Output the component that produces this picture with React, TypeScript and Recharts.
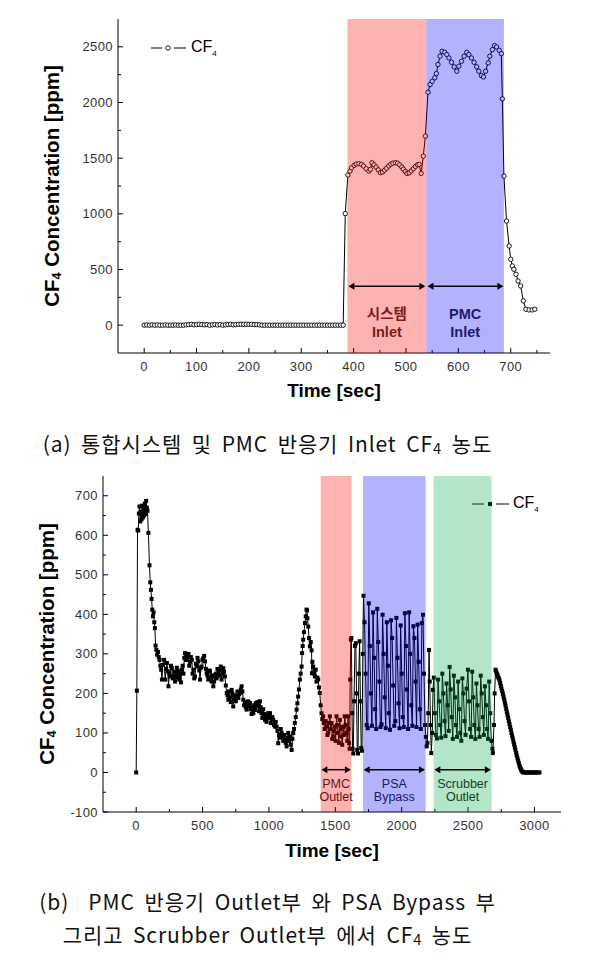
import {
  Label,
  Legend,
  Line,
  LineChart,
  ReferenceArea,
  ReferenceLine,
  XAxis,
  YAxis,
} from "recharts";

// ---------- (a) system / PMC inlet ----------
// [time sec, CF4 ppm]
const BASELINE_A: [number, number][] = [
  [0, 0], [5, 2], [10, 0], [15, 3], [20, 0], [25, 2], [30, 0], [35, 0], [40, 2],
  [45, 0], [50, 0], [55, 0], [60, 2], [65, 0], [70, 0], [75, 0], [80, 3], [85, 5],
  [90, 8], [95, 3], [100, 5], [105, 8], [110, 5], [115, 3], [120, 5], [125, 0],
  [130, 3], [135, 5], [140, 2], [145, 5], [150, 0], [155, 3], [160, 5], [165, 8],
  [170, 3], [175, 5], [180, 8], [185, 8], [190, 8], [195, 8], [200, 8], [205, 8],
  [210, 5], [215, 5], [220, 3], [225, 0], [230, 0], [235, 0], [240, 0], [245, 0],
  [250, 0], [255, 0], [260, 0], [265, 0], [270, 0], [275, 0], [280, 0], [285, 0],
  [290, 0], [295, 0], [300, 0], [305, 0], [310, 0], [315, 0], [320, 0], [325, 0],
  [330, 0], [335, 0], [340, 0], [345, 0], [350, 0], [355, 0], [360, 0], [365, 0],
  [370, 0], [375, 0], [380, 0],
];

const SYSTEM_INLET_A: [number, number][] = [
  [384, 1002], [389, 1348], [393, 1384], [396, 1414], [401, 1435], [405, 1447],
  [410, 1450], [415, 1444], [419, 1429], [424, 1405], [429, 1384], [432, 1400],
  [435, 1459], [439, 1440], [443, 1420], [447, 1395], [451, 1370], [455, 1375],
  [459, 1392], [463, 1410], [467, 1430], [471, 1445], [475, 1455], [480, 1459],
  [484, 1455], [488, 1440], [492, 1420], [495, 1400], [499, 1380], [502, 1363],
  [506, 1368], [510, 1385], [514, 1405], [518, 1425], [522, 1440], [525, 1444],
  [529, 1363], [533, 1518], [537, 1698],
];

const PMC_INLET_A: [number, number][] = [
  [542, 2092], [546, 2161], [550, 2191], [555, 2222], [558, 2260], [561, 2341],
  [565, 2416], [569, 2460], [574, 2451], [578, 2430], [582, 2400], [587, 2361],
  [592, 2320], [597, 2281], [601, 2326], [606, 2370], [611, 2416], [616, 2451],
  [620, 2430], [625, 2400], [630, 2361], [635, 2320], [639, 2281], [644, 2242],
  [648, 2230], [652, 2281], [657, 2356], [660, 2416], [665, 2475], [669, 2511],
  [673, 2499], [678, 2469], [682, 2439], [684, 2033], [687, 1339],
];

const PURGE_A: [number, number][] = [
  [692, 935], [697, 711], [700, 592], [703, 532], [706, 502], [710, 457],
  [714, 397], [719, 352], [724, 218], [729, 143], [735, 137], [741, 137], [746, 143],
];

const BANDS_A = [
  { from: 388, to: 539, arrow: [390, 537], y: 350, lines: ["시스템", "Inlet"] },
  { from: 539, to: 687, arrow: [541, 686], y: 350, lines: ["PMC", "Inlet"] },
];

const X_MAJOR_A = [0, 100, 200, 300, 400, 500, 600, 700];
const X_MINOR_A = [50, 150, 250, 350, 450, 550, 650, 750];
const Y_MAJOR_A = [0, 500, 1000, 1500, 2000, 2500];
const Y_MINOR_A = [250, 750, 1250, 1750, 2250];

// ---------- (b) PMC outlet / PSA bypass / scrubber outlet ----------
const RISE_B: [number, number][] = [
  [0, 0], [5, 207], [10, 614], [15, 612], [20, 655], [25, 673], [30, 635], [35, 660],
  [40, 640], [45, 675], [50, 645], [55, 665], [60, 650], [65, 680], [70, 654],
  [75, 687], [80, 670], [85, 662], [92, 606], [100, 524],
];

const DECAY_B: [number, number][] = [
  [106, 481], [111, 462], [116, 439], [121, 412], [126, 395], [131, 405], [136, 380],
  [141, 365], [146, 321], [152, 310], [158, 298], [164, 305], [170, 292], [176, 285],
  [182, 270], [188, 260], [194, 235],
];

const DRIFT_B: [number, number][] = [
  [200, 272], [210, 285], [218, 235], [226, 262], [231, 277], [238, 256], [243, 218],
  [250, 250], [256, 243], [262, 270], [268, 264], [275, 238], [281, 243], [287, 255],
  [293, 230], [300, 248], [306, 265], [312, 240], [318, 256], [325, 235], [331, 250],
  [337, 228], [343, 260], [350, 270], [356, 250], [362, 290], [368, 302], [375, 285],
  [381, 285], [387, 294], [393, 300], [400, 270], [406, 280], [412, 292], [419, 285],
  [425, 250], [431, 260], [437, 238], [443, 243], [450, 275], [456, 268], [462, 290],
  [468, 281], [475, 258], [481, 235], [487, 265], [493, 268], [500, 285], [506, 289],
  [512, 295], [518, 281], [525, 262], [531, 251], [537, 245], [543, 235], [550, 258],
  [556, 256], [562, 240], [568, 230], [575, 246], [581, 218], [587, 230], [593, 243],
  [600, 250], [606, 238], [612, 262], [619, 251], [625, 245], [631, 260], [637, 268],
  [643, 235], [650, 250], [656, 264], [662, 255], [668, 243], [675, 220], [682, 201],
  [688, 195], [694, 184], [700, 205], [706, 190], [712, 178], [719, 209], [725, 200],
  [731, 167], [737, 185], [743, 195], [750, 180], [757, 193], [763, 205], [769, 188],
  [775, 198], [782, 201], [788, 210], [794, 218], [800, 205], [807, 184], [813, 170],
  [819, 178], [825, 165], [832, 159], [838, 172], [844, 180], [850, 168], [857, 176],
  [863, 160], [869, 148], [875, 165], [882, 150], [888, 170], [894, 158], [900, 175],
  [907, 167], [913, 178], [919, 170], [925, 155], [932, 180], [938, 165], [944, 150],
  [950, 138], [957, 160], [963, 148], [970, 133], [976, 145], [982, 128], [988, 140],
  [995, 150], [1001, 138], [1008, 150], [1014, 125], [1020, 133], [1026, 140],
  [1032, 133], [1038, 120], [1045, 116], [1051, 128], [1058, 116], [1064, 105],
  [1070, 74], [1076, 95], [1083, 88], [1089, 110], [1095, 100], [1101, 92], [1108, 80],
  [1114, 95], [1120, 83], [1126, 75], [1133, 66], [1139, 88], [1145, 100], [1151, 80],
  [1158, 91], [1164, 70], [1171, 57], [1177, 85], [1183, 100], [1189, 110], [1195, 125],
  [1202, 140], [1208, 159], [1214, 175], [1220, 192], [1226, 210], [1233, 235],
  [1239, 250], [1246, 268], [1250, 302], [1254, 320], [1258, 336], [1264, 355],
  [1271, 378], [1277, 395], [1283, 412], [1287, 410], [1290, 390], [1296, 369],
  [1302, 340], [1308, 319], [1315, 330], [1321, 309], [1324, 251], [1327, 280],
  [1333, 268], [1340, 250], [1346, 243], [1352, 260], [1358, 230], [1365, 240],
  [1371, 235], [1377, 215], [1383, 201], [1390, 170],
];

const PMC_OUTLET_B: [number, number][] = [
  [1396, 150], [1402, 135], [1408, 142], [1414, 125], [1420, 110], [1427, 130],
  [1434, 116], [1440, 95], [1446, 100], [1452, 125], [1459, 142], [1465, 110],
  [1471, 125], [1477, 85], [1484, 91], [1490, 105], [1496, 116], [1502, 80],
  [1509, 142], [1515, 120], [1521, 100], [1527, 75], [1534, 133], [1540, 110],
  [1546, 91], [1552, 70], [1559, 116], [1565, 95], [1571, 142], [1577, 120],
  [1584, 100], [1590, 80], [1596, 142], [1600, 110], [1604, 74], [1608, 60],
  [1612, 235], [1617, 336],
];

const GAP_1_B: [number, number][] = [
  [1621, 340], [1626, 150], [1630, 60], [1635, 48], [1641, 180], [1648, 320],
  [1654, 327], [1660, 200], [1665, 57], [1671, 48], [1677, 250], [1683, 332],
  [1689, 180], [1695, 62], [1701, 55], [1707, 300],
];

const PSA_BYPASS_B: [number, number][] = [
  [1712, 447], [1720, 380], [1728, 250], [1736, 120], [1744, 112], [1752, 428],
  [1760, 320], [1768, 200], [1776, 118], [1784, 405], [1792, 290], [1800, 160],
  [1808, 110], [1816, 414], [1824, 330], [1832, 230], [1840, 115], [1848, 122],
  [1856, 399], [1864, 300], [1872, 190], [1880, 112], [1888, 380], [1896, 270],
  [1904, 150], [1912, 108], [1920, 385], [1928, 340], [1936, 220], [1944, 118],
  [1952, 130], [1960, 391], [1968, 290], [1976, 175], [1984, 112], [1992, 372],
  [2000, 250], [2008, 140], [2016, 115], [2024, 403], [2032, 320], [2040, 210],
  [2048, 110], [2056, 405], [2064, 300], [2072, 170], [2080, 118], [2088, 370],
  [2096, 340], [2104, 230], [2112, 115], [2120, 374], [2128, 280], [2136, 160],
  [2144, 110], [2152, 378], [2160, 399], [2168, 250], [2176, 120],
];

const GAP_2_B: [number, number][] = [
  [2182, 90], [2188, 66], [2194, 75], [2200, 150], [2206, 310], [2211, 230],
  [2217, 120], [2223, 49], [2230, 100], [2236, 209],
];

const SCRUBBER_OUTLET_B: [number, number][] = [
  [2242, 240], [2250, 150], [2258, 95], [2266, 86], [2274, 235], [2282, 180],
  [2290, 120], [2298, 88], [2306, 250], [2314, 200], [2322, 130], [2330, 92],
  [2338, 225], [2346, 170], [2354, 105], [2361, 267], [2369, 210], [2377, 140],
  [2385, 85], [2393, 245], [2401, 190], [2409, 120], [2417, 90], [2425, 230],
  [2433, 160], [2441, 100], [2449, 80], [2457, 238], [2465, 200], [2473, 130],
  [2481, 95], [2489, 212], [2499, 260], [2507, 180], [2515, 110], [2523, 90],
  [2531, 255], [2539, 190], [2547, 120], [2555, 85], [2563, 225], [2571, 170],
  [2579, 110], [2587, 90], [2595, 245], [2603, 200], [2611, 140], [2619, 95],
  [2627, 218], [2635, 170], [2643, 110], [2651, 85], [2659, 230], [2667, 150],
  [2675, 80], [2683, 60], [2687, 49],
];

const PURGE_B: [number, number][] = [
  [2695, 120], [2700, 200], [2707, 260], [2712, 255], [2717, 250], [2722, 246],
  [2727, 241], [2732, 238], [2737, 233], [2742, 226], [2747, 219], [2752, 212],
  [2757, 206], [2762, 199], [2767, 192], [2772, 185], [2777, 177], [2782, 169],
  [2787, 161], [2792, 153], [2797, 146], [2802, 138], [2807, 130], [2812, 123],
  [2817, 115], [2822, 108], [2827, 100], [2832, 93], [2837, 86], [2842, 78],
  [2847, 71], [2852, 64], [2857, 57], [2862, 50], [2867, 43], [2872, 36],
  [2877, 30], [2882, 24], [2887, 18], [2892, 13], [2897, 9], [2902, 5], [2907, 3],
  [2912, 1], [2917, 0], [2925, 0], [2935, 0], [2945, 0], [2955, 0], [2965, 0],
  [2975, 0], [2985, 0], [2995, 0], [3005, 0], [3015, 0], [3025, 0], [3038, 0],
];

const BANDS_B = [
  { from: 1390, to: 1622, arrow: [1395, 1617], y: 7, lines: ["PMC", "Outlet"] },
  { from: 1709, to: 2180, arrow: [1714, 2175], y: 7, lines: ["PSA", "Bypass"] },
  { from: 2241, to: 2677, arrow: [2246, 2672], y: 7, lines: ["Scrubber", "Outlet"] },
];

const X_MAJOR_B = [0, 500, 1000, 1500, 2000, 2500, 3000];
const X_MINOR_B = [250, 750, 1250, 1750, 2250, 2750];
const Y_MAJOR_B = [-100, 0, 100, 200, 300, 400, 500, 600, 700];
const Y_MINOR_B = [-50, 50, 150, 250, 350, 450, 550, 650];

// ---------- styling ----------
const FONT = "'Liberation Sans', Arial, sans-serif";
const KR_FONT = "'Noto Sans CJK KR', 'Noto Sans', sans-serif";
const BAND_FILLS_A = ["#ff0000", "#0000ff"];
const BAND_FILLS_B = ["#ff0000", "#0000ff", "#00ac48"];
const BAND_TEXT_A = ["#7a1c1c", "#1c1c6e"];
const BAND_TEXT_B = ["#5e1616", "#1a1a5e", "#173d26"];

const toRows = (...parts: [number, number][][]) =>
  parts.flat().map(([t, v]) => ({ t, v }));

const dataA = toRows(BASELINE_A, SYSTEM_INLET_A, PMC_INLET_A, PURGE_A);
const dataB = toRows(
  RISE_B, DECAY_B, DRIFT_B, PMC_OUTLET_B, GAP_1_B,
  PSA_BYPASS_B, GAP_2_B, SCRUBBER_OUTLET_B, PURGE_B
);

type Side = "bottom" | "left" | "top" | "right";

// tickSize/tickMargin are 0, so (x, y) sits on the axis line: draw inward ticks here
function makeTick(side: Side, majors: number[], showLabel: boolean) {
  return (props: any) => {
    const { x, y, payload } = props;
    const value = payload.value;
    const major = majors.includes(value);
    const len = major ? 5 : 3;
    let tick = null;
    if (side === "bottom") tick = <line x1={x} y1={y} x2={x} y2={y - len} />;
    if (side === "top") tick = <line x1={x} y1={y} x2={x} y2={y + len} />;
    if (side === "left") tick = <line x1={x} y1={y} x2={x + len} y2={y} />;
    if (side === "right") tick = <line x1={x} y1={y} x2={x - len} y2={y} />;
    return (
      <g>
        <g stroke="#000" strokeWidth={1}>{tick}</g>
        {showLabel && major && side === "bottom" && (
          <text x={x} y={y + 18} textAnchor="middle" fontSize={13} fill="#333" fontFamily={FONT} letterSpacing={0.4}>
            {value}
          </text>
        )}
        {showLabel && major && side === "left" && (
          <text x={x - 5} y={y + 4.5} textAnchor="end" fontSize={13} fill="#333" fontFamily={FONT} letterSpacing={0.4}>
            {value}
          </text>
        )}
      </g>
    );
  };
}

const xTitle = (dy: number) => (props: any) => {
  const { x, y, width } = props.viewBox;
  return (
    <text x={x + width / 2} y={y + dy} textAnchor="middle" fontSize={19} fontWeight={700} fontFamily={FONT} fill="#000">
      Time [sec]
    </text>
  );
};

const yTitle = (cx: number) => (props: any) => {
  const { y, height } = props.viewBox;
  const cy = y + height / 2;
  return (
    <text
      x={cx}
      y={cy}
      transform={`rotate(-90 ${cx} ${cy})`}
      textAnchor="middle"
      dominantBaseline="central"
      fontSize={20.5}
      fontWeight={700}
      fontFamily={FONT}
      fill="#000"
    >
      <tspan>CF</tspan>
      <tspan fontSize={12.5} dy={6}>4</tspan>
      <tspan dy={-6}> Concentration [ppm]</tspan>
    </text>
  );
};

const hasHangul = (s: string) => /[\uac00-\ud7a3]/.test(s);

const bandLabel = (lines: string[], color: string, fontSize: number, bold: boolean, up: number, gap: number) =>
  (props: any) => {
    const { x, y, width, height } = props.viewBox;
    const cx = x + width / 2;
    const base = y + height - up;
    return (
      <g fontSize={fontSize} fontWeight={bold ? 700 : 400} fill={color} textAnchor="middle">
        <text x={cx} y={base} fontFamily={hasHangul(lines[0]) ? KR_FONT : FONT}>{lines[0]}</text>
        <text x={cx} y={base + gap} fontFamily={FONT}>{lines[1]}</text>
      </g>
    );
  };

const arrowShape = (props: any) => {
  const { x1, y1, x2, y2 } = props;
  const h = 6;
  const w = 3.5;
  return (
    <g>
      <line x1={x1 + h} y1={y1} x2={x2 - h} y2={y2} stroke="#000" strokeWidth={1.5} />
      <polygon points={`${x1},${y1} ${x1 + h},${y1 - w} ${x1 + h},${y1 + w}`} fill="#000" />
      <polygon points={`${x2},${y2} ${x2 - h},${y2 - w} ${x2 - h},${y2 + w}`} fill="#000" />
    </g>
  );
};

const squareDot = (props: any) => {
  const { cx, cy, index } = props;
  if (cx == null || cy == null) return <g key={`d${index}`} />;
  return <rect key={`d${index}`} x={cx - 2} y={cy - 2} width={4} height={4} fill="#000" />;
};

function LegendA() {
  return (
    <div style={{ display: "flex", alignItems: "center", fontFamily: FONT, fontSize: 16, color: "#000" }}>
      <svg width={36} height={12}>
        <line x1={0} y1={6} x2={11} y2={6} stroke="#000" />
        <circle cx={17} cy={6} r={2.2} fill="#fff" stroke="#000" strokeWidth={0.9} />
        <line x1={23} y1={6} x2={35} y2={6} stroke="#000" />
      </svg>
      <span style={{ marginLeft: 4, color: "#000" }}>
        CF<sub style={{ fontSize: 8, verticalAlign: -4, color: "#000" }}>4</sub>
      </span>
    </div>
  );
}

function LegendB() {
  return (
    <div style={{ display: "flex", alignItems: "center", fontFamily: FONT, fontSize: 16, color: "#000" }}>
      <svg width={37} height={12}>
        <line x1={0} y1={6} x2={12} y2={6} stroke="#000" />
        <rect x={16} y={4} width={4} height={4} fill="#000" />
        <line x1={24} y1={6} x2={37} y2={6} stroke="#000" />
      </svg>
      <span style={{ marginLeft: 4, color: "#000" }}>
        CF<sub style={{ fontSize: 8, verticalAlign: -4, color: "#000" }}>4</sub>
      </span>
    </div>
  );
}

const captionStyle: React.CSSProperties = {
  position: "absolute",
  left: 0,
  width: 535,
  textAlign: "center",
  fontFamily: KR_FONT,
  fontSize: 21,
  fontWeight: 400,
  letterSpacing: 0.9,
  wordSpacing: 4,
  color: "#111",
  whiteSpace: "pre",
  lineHeight: "33px",
};

const Sub4 = () => <sub style={{ fontSize: "0.7em", verticalAlign: "-0.12em" }}>4</sub>;

type Band = { from: number; to: number; arrow: number[]; y: number; lines: string[] };

// Second, transparent chart on the same scales: bands are laid over the data so
// markers inside a band take its tint, as in the source figure.
function BandOverlay(p: {
  data: { t: number; v: number }[];
  xDomain: [number, number];
  yDomain: [number, number];
  margin: { top: number; right: number; bottom: number; left: number };
  bands: Band[];
  fills: string[];
  textColors: string[];
  label: (b: Band, color: string) => any;
}) {
  return (
    <div style={{ position: "absolute", left: 0, top: 0, pointerEvents: "none" }}>
      <LineChart width={591} height={410} data={p.data} margin={p.margin}>
        <XAxis dataKey="t" type="number" domain={p.xDomain} allowDataOverflow hide />
        <YAxis type="number" domain={p.yDomain} allowDataOverflow hide />
        {p.bands.map((b, i) => (
          <ReferenceArea
            key={`band${i}`}
            x1={b.from}
            x2={b.to}
            fill={p.fills[i]}
            fillOpacity={0.3}
            stroke="none"
            label={p.label(b, p.textColors[i])}
          />
        ))}
        {p.bands.map((b, i) => (
          <ReferenceLine
            key={`arrow${i}`}
            segment={[{ x: b.arrow[0], y: b.y }, { x: b.arrow[1], y: b.y }]}
            shape={arrowShape}
          />
        ))}
      </LineChart>
    </div>
  );
}

export default function App() {
  return (
    <div style={{ position: "absolute", left: 0, top: 0, width: 591, height: 972, background: "#fff" }}>
      {/* (a) */}
      <div style={{ position: "absolute", left: 0, top: 0, width: 591, height: 410 }}>
        <LineChart width={591} height={410} data={dataA} margin={{ top: 19, right: 41, bottom: 27, left: 58 }}>
          <XAxis
            dataKey="t"
            type="number"
            domain={[-50, 775]}
            allowDataOverflow
            ticks={[...X_MAJOR_A, ...X_MINOR_A]}
            interval={0}
            height={30}
            tickSize={0}
            tickMargin={0}
            tickLine={false}
            axisLine={{ stroke: "#000" }}
            tick={makeTick("bottom", X_MAJOR_A, true)}
          >
            <Label content={xTitle(44)} />
          </XAxis>
          <XAxis
            xAxisId="top"
            orientation="top"
            type="number"
            domain={[-50, 775]}
            allowDataOverflow
            ticks={[...X_MAJOR_A, ...X_MINOR_A]}
            interval={0}
            height={0}
            tickSize={0}
            tickMargin={0}
            tickLine={false}
            axisLine={{ stroke: "#000" }}
            tick={makeTick("top", X_MAJOR_A, false)}
          />
          <YAxis
            type="number"
            domain={[-250, 2750]}
            allowDataOverflow
            ticks={[...Y_MAJOR_A, ...Y_MINOR_A]}
            interval={0}
            width={60}
            tickSize={0}
            tickMargin={0}
            tickLine={false}
            axisLine={{ stroke: "#000" }}
            tick={makeTick("left", Y_MAJOR_A, true)}
          >
            <Label content={yTitle(51)} />
          </YAxis>
          <YAxis
            yAxisId="right"
            orientation="right"
            type="number"
            domain={[-250, 2750]}
            allowDataOverflow
            ticks={[...Y_MAJOR_A, ...Y_MINOR_A]}
            interval={0}
            width={0}
            tickSize={0}
            tickMargin={0}
            tickLine={false}
            axisLine={{ stroke: "#000" }}
            tick={makeTick("right", Y_MAJOR_A, false)}
          />
          <Line
            dataKey="v"
            type="linear"
            stroke="#000"
            strokeWidth={1}
            dot={{ r: 2.2, fill: "#fff", stroke: "#000", strokeWidth: 0.9 }}
            activeDot={false}
            isAnimationActive={false}
          />
          <Legend
            layout="horizontal"
            verticalAlign="middle"
            align="center"
            content={() => <LegendA />}
            wrapperStyle={{ left: 151, top: 38, width: "auto", height: "auto" }}
          />
        </LineChart>
        <BandOverlay
          data={dataA}
          xDomain={[-50, 775]}
          yDomain={[-250, 2750]}
          margin={{ top: 19, right: 41, bottom: 57, left: 118 }}
          bands={BANDS_A}
          fills={BAND_FILLS_A}
          textColors={BAND_TEXT_A}
          label={(b, c) => bandLabel(b.lines, c, 14.5, true, 34, 18)}
        />
      </div>
      <div style={{ ...captionStyle, top: 427 }}>
        (a) 통합시스템 및 PMC 반응기 Inlet CF<Sub4 /> 농도
      </div>

      {/* (b) */}
      <div style={{ position: "absolute", left: 0, top: 460, width: 591, height: 410 }}>
        <LineChart width={591} height={410} data={dataB} margin={{ top: 16, right: 30, bottom: 28, left: 43 }}>
          <XAxis
            dataKey="t"
            type="number"
            domain={[-250, 3200]}
            allowDataOverflow
            ticks={[...X_MAJOR_B, ...X_MINOR_B]}
            interval={0}
            height={30}
            tickSize={0}
            tickMargin={0}
            tickLine={false}
            axisLine={{ stroke: "#000" }}
            tick={makeTick("bottom", X_MAJOR_B, true)}
          >
            <Label content={xTitle(45)} />
          </XAxis>
          <XAxis
            xAxisId="top"
            orientation="top"
            type="number"
            domain={[-250, 3200]}
            allowDataOverflow
            ticks={[...X_MAJOR_B, ...X_MINOR_B]}
            interval={0}
            height={0}
            tickSize={0}
            tickMargin={0}
            tickLine={false}
            axisLine={{ stroke: "#000" }}
            tick={makeTick("top", X_MAJOR_B, false)}
          />
          <YAxis
            type="number"
            domain={[-100, 750]}
            allowDataOverflow
            ticks={[...Y_MAJOR_B, ...Y_MINOR_B]}
            interval={0}
            width={60}
            tickSize={0}
            tickMargin={0}
            tickLine={false}
            axisLine={{ stroke: "#000" }}
            tick={makeTick("left", Y_MAJOR_B, true)}
          >
            <Label content={yTitle(46)} />
          </YAxis>
          <YAxis
            yAxisId="right"
            orientation="right"
            type="number"
            domain={[-100, 750]}
            allowDataOverflow
            ticks={[...Y_MAJOR_B, ...Y_MINOR_B]}
            interval={0}
            width={0}
            tickSize={0}
            tickMargin={0}
            tickLine={false}
            axisLine={{ stroke: "#000" }}
            tick={makeTick("right", Y_MAJOR_B, false)}
          />
          <Line
            dataKey="v"
            type="linear"
            stroke="#000"
            strokeWidth={1}
            dot={squareDot}
            activeDot={false}
            isAnimationActive={false}
          />
          <Legend
            layout="horizontal"
            verticalAlign="middle"
            align="center"
            content={() => <LegendB />}
            wrapperStyle={{ left: 472, top: 34, width: "auto", height: "auto" }}
          />
        </LineChart>
        <BandOverlay
          data={dataB}
          xDomain={[-250, 3200]}
          yDomain={[-100, 750]}
          margin={{ top: 16, right: 30, bottom: 58, left: 103 }}
          bands={BANDS_B}
          fills={BAND_FILLS_B}
          textColors={BAND_TEXT_B}
          label={(b, c) => bandLabel(b.lines, c, 12.5, false, 24, 13)}
        />
      </div>
      <div style={{ ...captionStyle, top: 885 }}>
        {"(b)  PMC 반응기 Outlet부 와 PSA Bypass 부"}
        <br />
        그리고 Scrubber Outlet부 에서 CF<Sub4 /> 농도
      </div>
    </div>
  );
}
